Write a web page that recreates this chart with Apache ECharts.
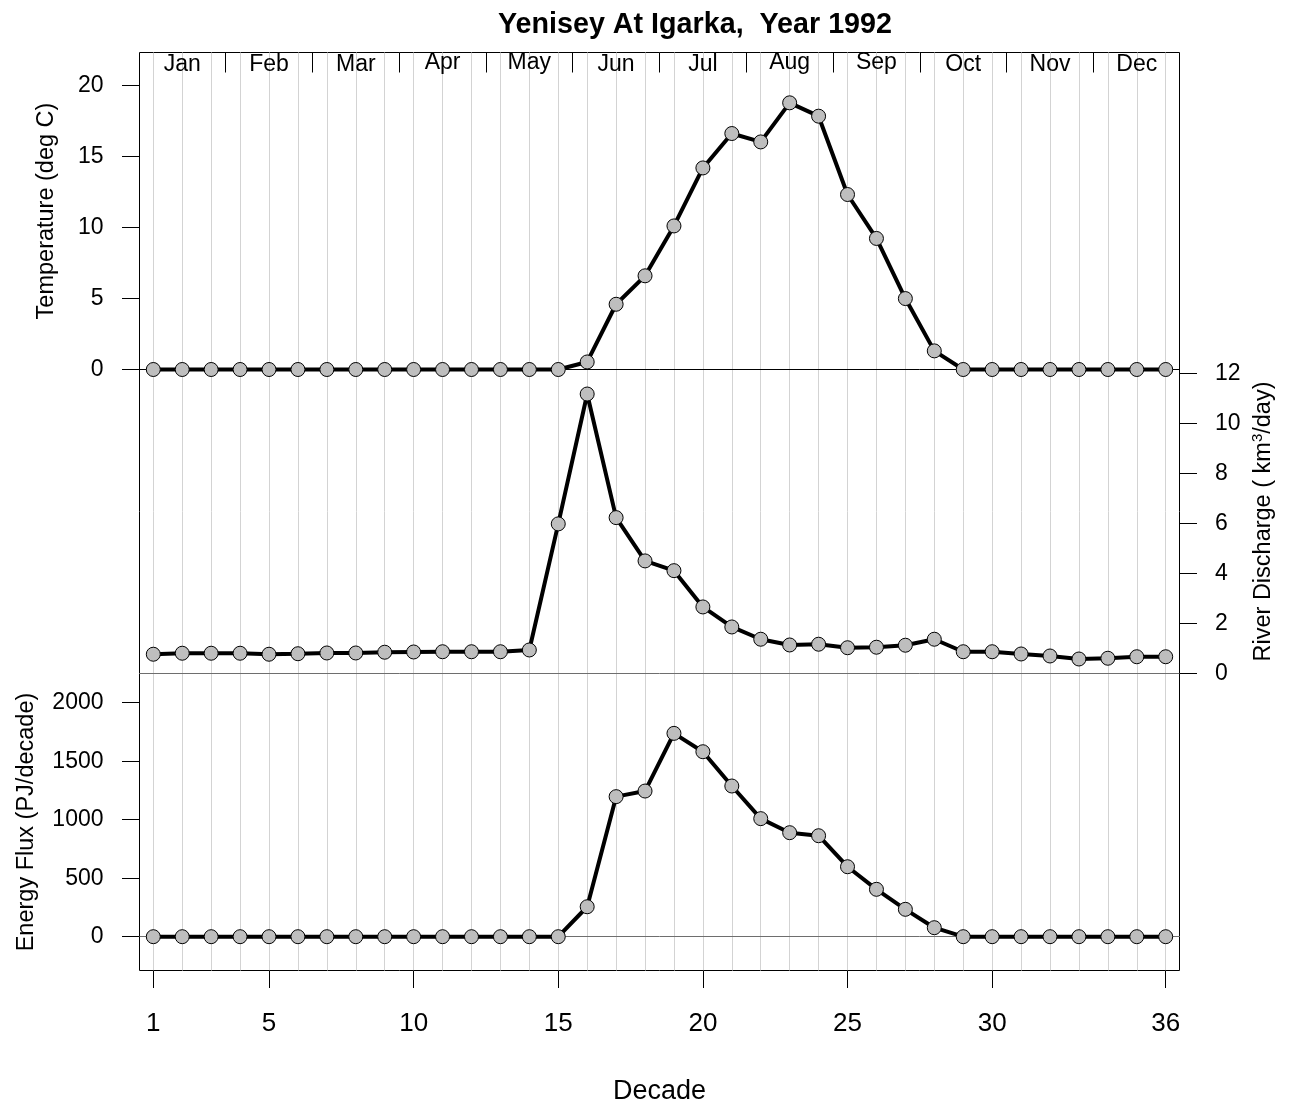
<!DOCTYPE html>
<html>
<head>
<meta charset="utf-8">
<script src="https://cdn.jsdelivr.net/npm/echarts@6/dist/echarts.min.js"></script>
<style>html,body{margin:0;padding:0;background:#fff}#c{width:1291px;height:1107px}</style>
</head>
<body>
<div id="c"></div>
<script>
const FONT = '"Liberation Sans", Arial, Helvetica, sans-serif';

const decades = [1,2,3,4,5,6,7,8,9,10,11,12,13,14,15,16,17,18,19,20,21,22,23,24,25,26,27,28,29,30,31,32,33,34,35,36];
const temperature = [0,0,0,0,0,0,0,0,0,0,0,0,0,0,0,0.53,4.59,6.59,10.1,14.18,16.6,16.01,18.76,17.82,12.31,9.22,4.99,1.31,0,0,0,0,0,0,0,0];
const discharge = [0.77,0.81,0.81,0.81,0.77,0.79,0.82,0.82,0.85,0.86,0.87,0.87,0.87,0.94,5.98,11.17,6.23,4.5,4.11,2.66,1.86,1.37,1.14,1.17,1.03,1.05,1.13,1.37,0.87,0.87,0.78,0.70,0.58,0.61,0.67,0.67];
const energy = [0,0,0,0,0,0,0,0,0,0,0,0,0,0,0,256,1197,1245,1738,1581,1288,1009,889,863,598,405,234,77,0,0,0,0,0,0,0,0];

const monthNames = ['Jan','Feb','Mar','Apr','May','Jun','Jul','Aug','Sep','Oct','Nov','Dec'];
const monthLabelPos = [2,5,8,11,14,17,20,23,26,29,32,35];
const monthSepPos = [3.5,6.5,9.5,12.5,15.5,18.5,21.5,24.5,27.5,30.5,33.5];
const decadeTicks = [1,5,10,15,20,25,30,36];
const tempTicks = [0,5,10,15,20];
const dischargeTicks = [0,2,4,6,8,10,12];
const energyTicks = [0,500,1000,1500,2000];
const descenderMonths = ['Apr','May','Aug','Sep'];

const XMIN = 0.523, XMAX = 36.477;
const L = 139.5, W = 1040;
const plain = function (v) { return String(v); };

function xBase(grid, extra) {
  return Object.assign({
    gridIndex: grid, type: 'value', min: XMIN, max: XMAX,
    axisLine: {show: false, onZero: false},
    axisTick: {show: false},
    axisLabel: {show: false},
    splitLine: {show: false}
  }, extra);
}

const option = {
  animation: false,
  backgroundColor: '#ffffff',
  textStyle: {fontFamily: FONT, color: '#000'},
  title: {
    text: 'Yenisey At Igarka,  Year 1992',
    left: 690, top: 6, textAlign: 'center',
    textStyle: {fontFamily: FONT, fontSize: 28.7, fontWeight: 'bold', color: '#000'}
  },
  grid: [
    {left: L, top: 52.5, width: W, height: 317, containLabel: false, outerBoundsMode: 'none'},
    {left: L, top: 369.5, width: W, height: 304, containLabel: false, outerBoundsMode: 'none'},
    {left: L, top: 673.5, width: W, height: 297, containLabel: false, outerBoundsMode: 'none'},
    {left: L, top: 52.5, width: W, height: 918, containLabel: false, outerBoundsMode: 'none',
     show: true, borderColor: '#000', borderWidth: 1, backgroundColor: 'transparent'}
  ],
  xAxis: [
    xBase(0, {
      position: 'top',
      axisTick: {show: true, inside: true, length: 20, customValues: monthSepPos, lineStyle: {color: '#000', width: 1}},
      axisLabel: {
        show: true, inside: true, customValues: monthLabelPos, margin: 12,
        fontFamily: FONT, fontSize: 23, color: '#000', verticalAlign: 'middle',
        formatter: function (v) {
          const m = monthNames[Math.round((v - 2) / 3)];
          return descenderMonths.indexOf(m) >= 0 ? '{u|' + m + '}' : '{n|' + m + '}';
        },
        rich: {
          n: {fontFamily: FONT, fontSize: 23, color: '#000'},
          u: {fontFamily: FONT, fontSize: 23, color: '#000', padding: [0, 0, 4, 0]}
        }
      }
    }),
    xBase(1, {position: 'top', axisLine: {show: true, onZero: false, lineStyle: {color: '#000', width: 1}}}),
    xBase(2, {position: 'top', axisLine: {show: true, onZero: false, lineStyle: {color: '#6e6e6e', width: 1}}}),
    xBase(2, {position: 'bottom', axisLine: {show: true, onZero: true, lineStyle: {color: '#6e6e6e', width: 1}}}),
    xBase(2, {
      position: 'bottom',
      axisTick: {show: true, length: 17.5, customValues: decadeTicks, lineStyle: {color: '#000', width: 1}},
      axisLabel: {show: true, customValues: decadeTicks, margin: 53, fontFamily: FONT, fontSize: 26, color: '#000', verticalAlign: 'middle', formatter: plain},
      name: 'Decade', nameLocation: 'middle', nameGap: 121, nameMoveOverlap: false,
      nameTextStyle: {fontFamily: FONT, fontSize: 27, color: '#000', verticalAlign: 'middle', align: 'center'}
    }),
    xBase(3, {
      position: 'bottom',
      axisTick: {show: false, customValues: decades},
      splitLine: {show: true, lineStyle: {color: '#d3d3d3', width: 1}}
    })
  ],
  yAxis: [
    {
      gridIndex: 0, type: 'value', min: 0, max: 22.3, position: 'left',
      axisLine: {show: false, onZero: false},
      axisTick: {show: true, length: 17.5, customValues: tempTicks, lineStyle: {color: '#000', width: 1}},
      axisLabel: {customValues: tempTicks, margin: 36, fontFamily: FONT, fontSize: 23, color: '#000', formatter: plain},
      splitLine: {show: false},
      name: 'Temperature (deg C)', nameLocation: 'middle', nameRotate: 90, nameGap: 93, nameMoveOverlap: false,
      nameTextStyle: {fontFamily: FONT, fontSize: 23.5, color: '#000', verticalAlign: 'middle', align: 'center'}
    },
    {
      gridIndex: 1, type: 'value', min: 0, max: 12.15, position: 'right',
      axisLine: {show: false, onZero: false},
      axisTick: {show: true, length: 17.5, customValues: dischargeTicks, lineStyle: {color: '#000', width: 1}},
      axisLabel: {customValues: dischargeTicks, margin: 35.5, fontFamily: FONT, fontSize: 23, color: '#000', formatter: plain},
      splitLine: {show: false},
      name: '{a|River Discharge ( km}{s|3}{a|/day)}', nameLocation: 'middle', nameRotate: 90, nameGap: 84, nameMoveOverlap: false,
      nameTextStyle: {
        fontFamily: FONT, fontSize: 23.5, color: '#000', verticalAlign: 'middle', align: 'center',
        rich: {
          a: {fontFamily: FONT, fontSize: 23.5, color: '#000', lineHeight: 26},
          s: {fontFamily: FONT, fontSize: 15, color: '#000', verticalAlign: 'top', lineHeight: 14}
        }
      }
    },
    {
      gridIndex: 2, type: 'value', min: -288.9, max: 2249.6, position: 'left',
      axisLine: {show: false, onZero: false},
      axisTick: {show: true, length: 17.5, customValues: energyTicks, lineStyle: {color: '#000', width: 1}},
      axisLabel: {customValues: energyTicks, margin: 36, fontFamily: FONT, fontSize: 23, color: '#000', formatter: plain},
      splitLine: {show: false},
      name: 'Energy Flux (PJ/decade)', nameLocation: 'middle', nameRotate: 90, nameGap: 113, nameMoveOverlap: false,
      nameTextStyle: {fontFamily: FONT, fontSize: 23.5, color: '#000', verticalAlign: 'middle', align: 'center'}
    },
    {
      gridIndex: 3, type: 'value', min: 0, max: 1, show: false,
      axisLine: {show: false, onZero: false}, splitLine: {show: false}
    }
  ],
  series: []
};

function makeSeries(name, xi, yi, values) {
  return {
    name: name, type: 'line', xAxisIndex: xi, yAxisIndex: yi,
    data: decades.map(function (d, i) { return [d, values[i]]; }),
    symbol: 'circle', symbolSize: 14, showAllSymbol: true, clip: false,
    lineStyle: {color: '#000', width: 4},
    itemStyle: {color: '#bebebe', borderColor: '#000', borderWidth: 1},
    emphasis: {disabled: true}, silent: true, z: 5
  };
}
option.series.push(makeSeries('Temperature', 0, 0, temperature));
option.series.push(makeSeries('River Discharge', 1, 1, discharge));
option.series.push(makeSeries('Energy Flux', 4, 2, energy));

const chart = echarts.init(document.getElementById('c'), null, {renderer: 'canvas', width: 1291, height: 1107});
chart.setOption(option);
</script>
</body>
</html>
